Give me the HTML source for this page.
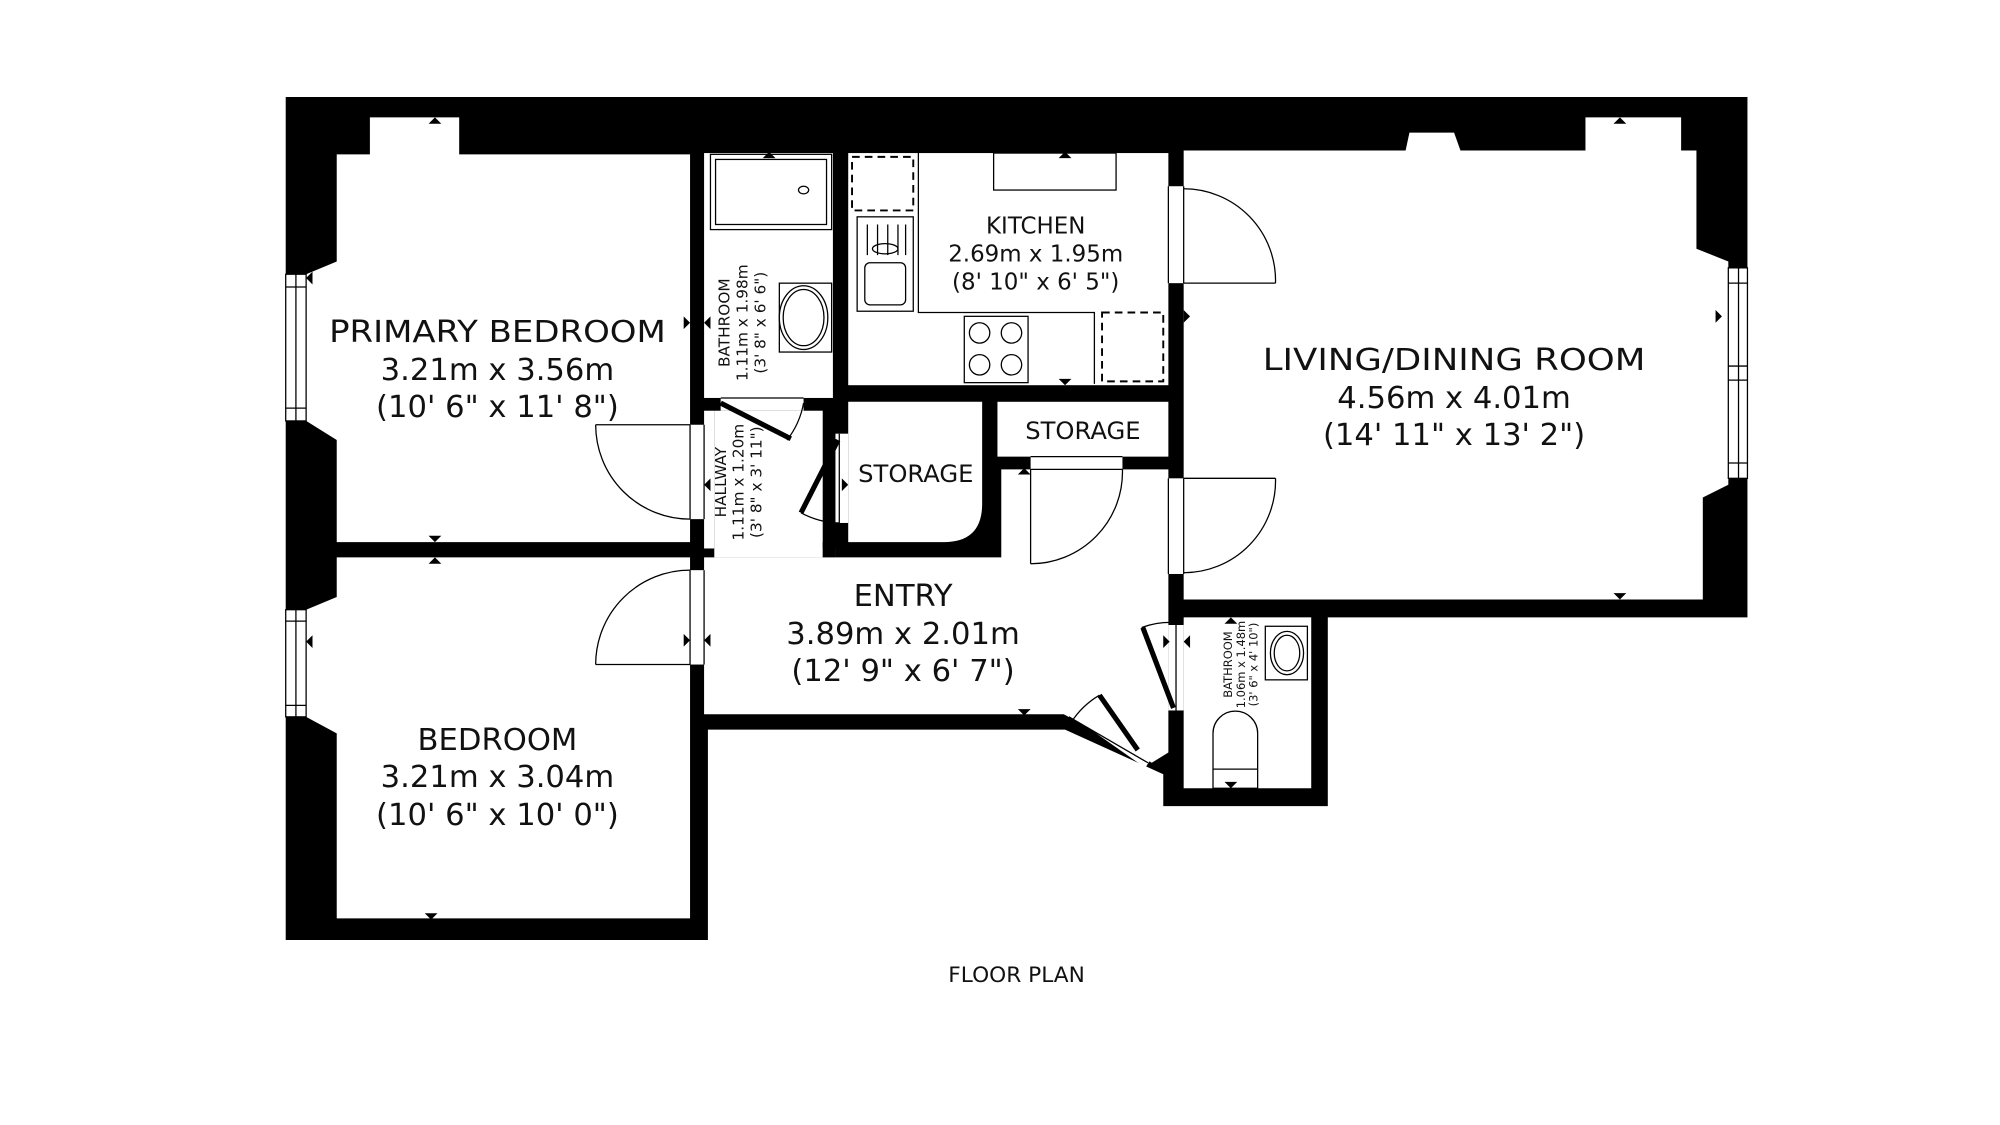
<!DOCTYPE html>
<html><head><meta charset="utf-8"><style>
html,body{margin:0;padding:0;background:#fff;width:2000px;height:1125px;overflow:hidden}
svg{display:block}
text{font-family:"DejaVu Sans","Liberation Sans",sans-serif;fill:#111}
</style></head><body>
<svg width="2000" height="1125" viewBox="0 0 1568 882" preserveAspectRatio="xMinYMin meet" xmlns="http://www.w3.org/2000/svg">
<rect width="1568" height="882" fill="#fff"/>
<polygon fill="#000" points="224,76 1370,76 1370,484 1041,484 1041,632 912,632 912,607 835,572 555,572 555,737 224,737"/>
<g fill="#fff">
<polygon points="290,92 360,92 360,121 541,121 541,425 264,425 264,345 240,330 240,215 264,205 264,121 290,121"/>
<polygon points="264,437 541,437 541,720 264,720 264,575 240,562 240,478 264,468"/>
<rect x="552" y="120" width="101" height="192"/>
<rect x="665" y="120" width="251" height="182"/>
<rect x="560" y="322" width="85" height="115"/>
<rect x="552" y="322" width="8" height="108"/>
<polygon points="552,437 645,437 645,430 655,430 655,437 916,437 916,590 903,598 834,560 552,560"/>
<rect x="785" y="368" width="131" height="70"/>
<path d="M665,315 H770 V395 Q770,425 740,425 H665 Z"/>
<rect x="782" y="315" width="134" height="43"/>
<polygon points="928,118 1243,118 1243,92 1318,92 1318,118 1330,118 1330,195 1355,205 1355,380 1335,390 1335,470 928,470"/>
<rect x="928" y="484" width="100" height="134"/>
<rect x="541" y="333" width="11" height="74"/>
<rect x="541" y="447" width="11" height="74"/>
<rect x="916" y="146" width="12" height="76"/>
<rect x="916" y="375" width="12" height="75"/>
<rect x="808" y="358" width="72" height="10"/>
<rect x="565" y="312" width="65" height="10"/>
<rect x="655" y="340" width="10" height="70"/>
<rect x="916" y="490" width="12" height="67"/>
<polygon points="838,560 850,557 905,590 898,602"/>
<rect x="224" y="215" width="16" height="115"/>
<rect x="224" y="478" width="16" height="84"/>
<rect x="1355" y="210" width="15" height="165"/>
<polygon points="1105,104 1140,104 1145,118 1102,118"/>
</g>
<rect x="645" y="425" width="10" height="12" fill="#000"/>
<g fill="none" stroke="#000" stroke-width="1">
<rect x="224" y="215" width="16" height="115"/><line x1="232" y1="215" x2="232" y2="330"/><line x1="224" y1="225" x2="240" y2="225"/><line x1="224" y1="320" x2="240" y2="320"/>
<rect x="224" y="478" width="16" height="84"/><line x1="232" y1="478" x2="232" y2="562"/><line x1="224" y1="487" x2="240" y2="487"/><line x1="224" y1="553" x2="240" y2="553"/>
<rect x="1355" y="210" width="15" height="165"/><line x1="1363" y1="210" x2="1363" y2="375"/><line x1="1355" y1="222" x2="1370" y2="222"/><line x1="1355" y1="287" x2="1370" y2="287"/><line x1="1355" y1="298" x2="1370" y2="298"/><line x1="1355" y1="363" x2="1370" y2="363"/>
<line x1="467" y1="333" x2="541" y2="333"/><path d="M467,333 A74,74 0 0 0 541,407"/><line x1="541" y1="333" x2="541" y2="407"/><line x1="552" y1="333" x2="552" y2="407"/>
<line x1="467" y1="521" x2="541" y2="521"/><path d="M467,521 A74,74 0 0 1 541,447"/><line x1="541" y1="447" x2="541" y2="521"/><line x1="552" y1="447" x2="552" y2="521"/>
<line x1="928" y1="222" x2="1000" y2="222"/><path d="M1000,222 A72,72 0 0 0 928,148"/><line x1="916" y1="146" x2="916" y2="222"/><line x1="928" y1="146" x2="928" y2="222"/>
<line x1="928" y1="375" x2="1000" y2="375"/><path d="M1000,375 A72,72 0 0 1 928,449"/><line x1="916" y1="375" x2="916" y2="450"/><line x1="928" y1="375" x2="928" y2="450"/>
<line x1="808" y1="368" x2="808" y2="442"/><path d="M808,442 A72,72 0 0 0 880,368"/><line x1="808" y1="358" x2="880" y2="358"/><line x1="808" y1="368" x2="880" y2="368"/>
<path d="M630,316 A66,66 0 0 1 617,345"/><line x1="565" y1="312" x2="630" y2="312"/>
<path d="M628,402 A66,66 0 0 0 658,410"/><line x1="658" y1="340" x2="658" y2="410"/>
<path d="M895,492 A66,66 0 0 1 920,488"/><line x1="922" y1="490" x2="922" y2="557"/>
<line x1="838" y1="562" x2="900" y2="598"/><path d="M840,566 A66,66 0 0 1 862,545"/>
<rect x="557" y="121" width="95" height="59"/><rect x="561" y="125" width="87" height="51"/><ellipse cx="630" cy="149" rx="4" ry="3"/>
<rect x="611" y="222" width="41" height="54"/><ellipse cx="630" cy="249" rx="19" ry="25"/><ellipse cx="630" cy="249" rx="16" ry="22"/>
<rect x="672" y="170" width="44" height="74"/><rect x="678" y="206" width="32" height="33" rx="4"/><ellipse cx="694" cy="195" rx="10" ry="4"/>
<line x1="680" y1="176" x2="680" y2="200"/><line x1="688" y1="176" x2="688" y2="200"/><line x1="696" y1="176" x2="696" y2="200"/><line x1="704" y1="176" x2="704" y2="200"/><line x1="710" y1="176" x2="710" y2="200"/>
<polyline points="720,120 720,245 858,245 858,301"/>
<rect x="779" y="120" width="96" height="29"/>
<rect x="756" y="248" width="50" height="52"/><circle cx="768" cy="261" r="8"/><circle cx="793" cy="261" r="8"/><circle cx="768" cy="286" r="8"/><circle cx="793" cy="286" r="8"/>
<rect x="992" y="491" width="33" height="42"/><ellipse cx="1009" cy="512" rx="13" ry="17"/><ellipse cx="1009" cy="512" rx="10" ry="14"/>
<path d="M951,618 V575 A17,17 0 0 1 986,575 V618 Z"/><line x1="951" y1="603" x2="986" y2="603"/>
</g>
<g fill="none" stroke="#000" stroke-width="1.5" stroke-dasharray="6,4">
<rect x="668" y="123" width="48" height="42"/><rect x="864" y="245" width="48" height="54"/>
</g>
<g stroke="#000" stroke-width="4">
<line x1="565" y1="316" x2="620" y2="344"/>
<line x1="657" y1="345" x2="628" y2="402"/>
<line x1="896" y1="492" x2="920" y2="555"/>
<line x1="862" y1="545" x2="892" y2="588"/>
</g>
<g fill="#000">
<path d="M336,97 l5,-5 l5,5z"/><path d="M336,420 l5,5 l5,-5z"/><path d="M336,442 l5,-5 l5,5z"/><path d="M333,716 l5,5 l5,-5z"/>
<path d="M240,218 l5,-5 v10z"/><path d="M240,503 l5,-5 v10z"/>
<path d="M536,248 l5,5 l-5,5z"/><path d="M536,497 l5,5 l-5,5z"/><path d="M557,248 l-5,5 l5,5z"/><path d="M557,497 l-5,5 l5,5z"/>
<path d="M598,124 l5,-5 l5,5z"/><path d="M830,124 l5,-5 l5,5z"/><path d="M830,297 l5,5 l5,-5z"/><path d="M798,556 l5,5 l5,-5z"/>
<path d="M1265,97 l5,-5 l5,5z"/><path d="M1265,465 l5,5 l5,-5z"/><path d="M1350,248 l-5,-5 v10z"/><path d="M933,248 l-5,-5 v10z"/>
<path d="M798,372 l5,-5 l5,5z"/><path d="M960,489 l5,-5 l5,5z"/><path d="M960,613 l5,5 l5,-5z"/>
<path d="M912,498 l5,5 l-5,5z"/><path d="M933,498 l-5,5 l5,5z"/><path d="M660,375 l5,5 l-5,5z"/><path d="M557,375 l-5,5 l5,5z"/>
</g>
<g text-anchor="middle">
<text x="390" y="268" font-size="24" textLength="264" lengthAdjust="spacingAndGlyphs">PRIMARY BEDROOM</text>
<text x="390" y="298" font-size="24">3.21m x 3.56m</text>
<text x="390" y="327" font-size="24">(10' 6" x 11' 8")</text>
<text x="390" y="588" font-size="24">BEDROOM</text>
<text x="390" y="617" font-size="24">3.21m x 3.04m</text>
<text x="390" y="647" font-size="24">(10' 6" x 10' 0")</text>
<text x="708" y="475" font-size="24">ENTRY</text>
<text x="708" y="505" font-size="24">3.89m x 2.01m</text>
<text x="708" y="534" font-size="24">(12' 9" x 6' 7")</text>
<text x="812" y="183" font-size="18">KITCHEN</text>
<text x="812" y="205" font-size="18">2.69m x 1.95m</text>
<text x="812" y="227" font-size="18">(8' 10" x 6' 5")</text>
<text x="1140" y="290" font-size="24" textLength="300" lengthAdjust="spacingAndGlyphs">LIVING/DINING ROOM</text>
<text x="1140" y="320" font-size="24">4.56m x 4.01m</text>
<text x="1140" y="349" font-size="24">(14' 11" x 13' 2")</text>
<text x="718" y="378" font-size="19">STORAGE</text>
<text x="849" y="344" font-size="19">STORAGE</text>
<text x="797" y="770" font-size="17">FLOOR PLAN</text>
<g transform="translate(572,253) rotate(-90)"><text font-size="12">BATHROOM</text><text y="14" font-size="12">1.11m x 1.98m</text><text y="28" font-size="12">(3' 8" x 6' 6")</text></g>
<g transform="translate(569,378) rotate(-90)"><text font-size="12">HALLWAY</text><text y="14" font-size="12">1.11m x 1.20m</text><text y="28" font-size="12">(3' 8" x 3' 11")</text></g>
<g transform="translate(966,521) rotate(-90)"><text font-size="9">BATHROOM</text><text y="10" font-size="9">1.06m x 1.48m</text><text y="20" font-size="9">(3' 6" x 4' 10")</text></g>
</g>
</svg>
</body></html>
